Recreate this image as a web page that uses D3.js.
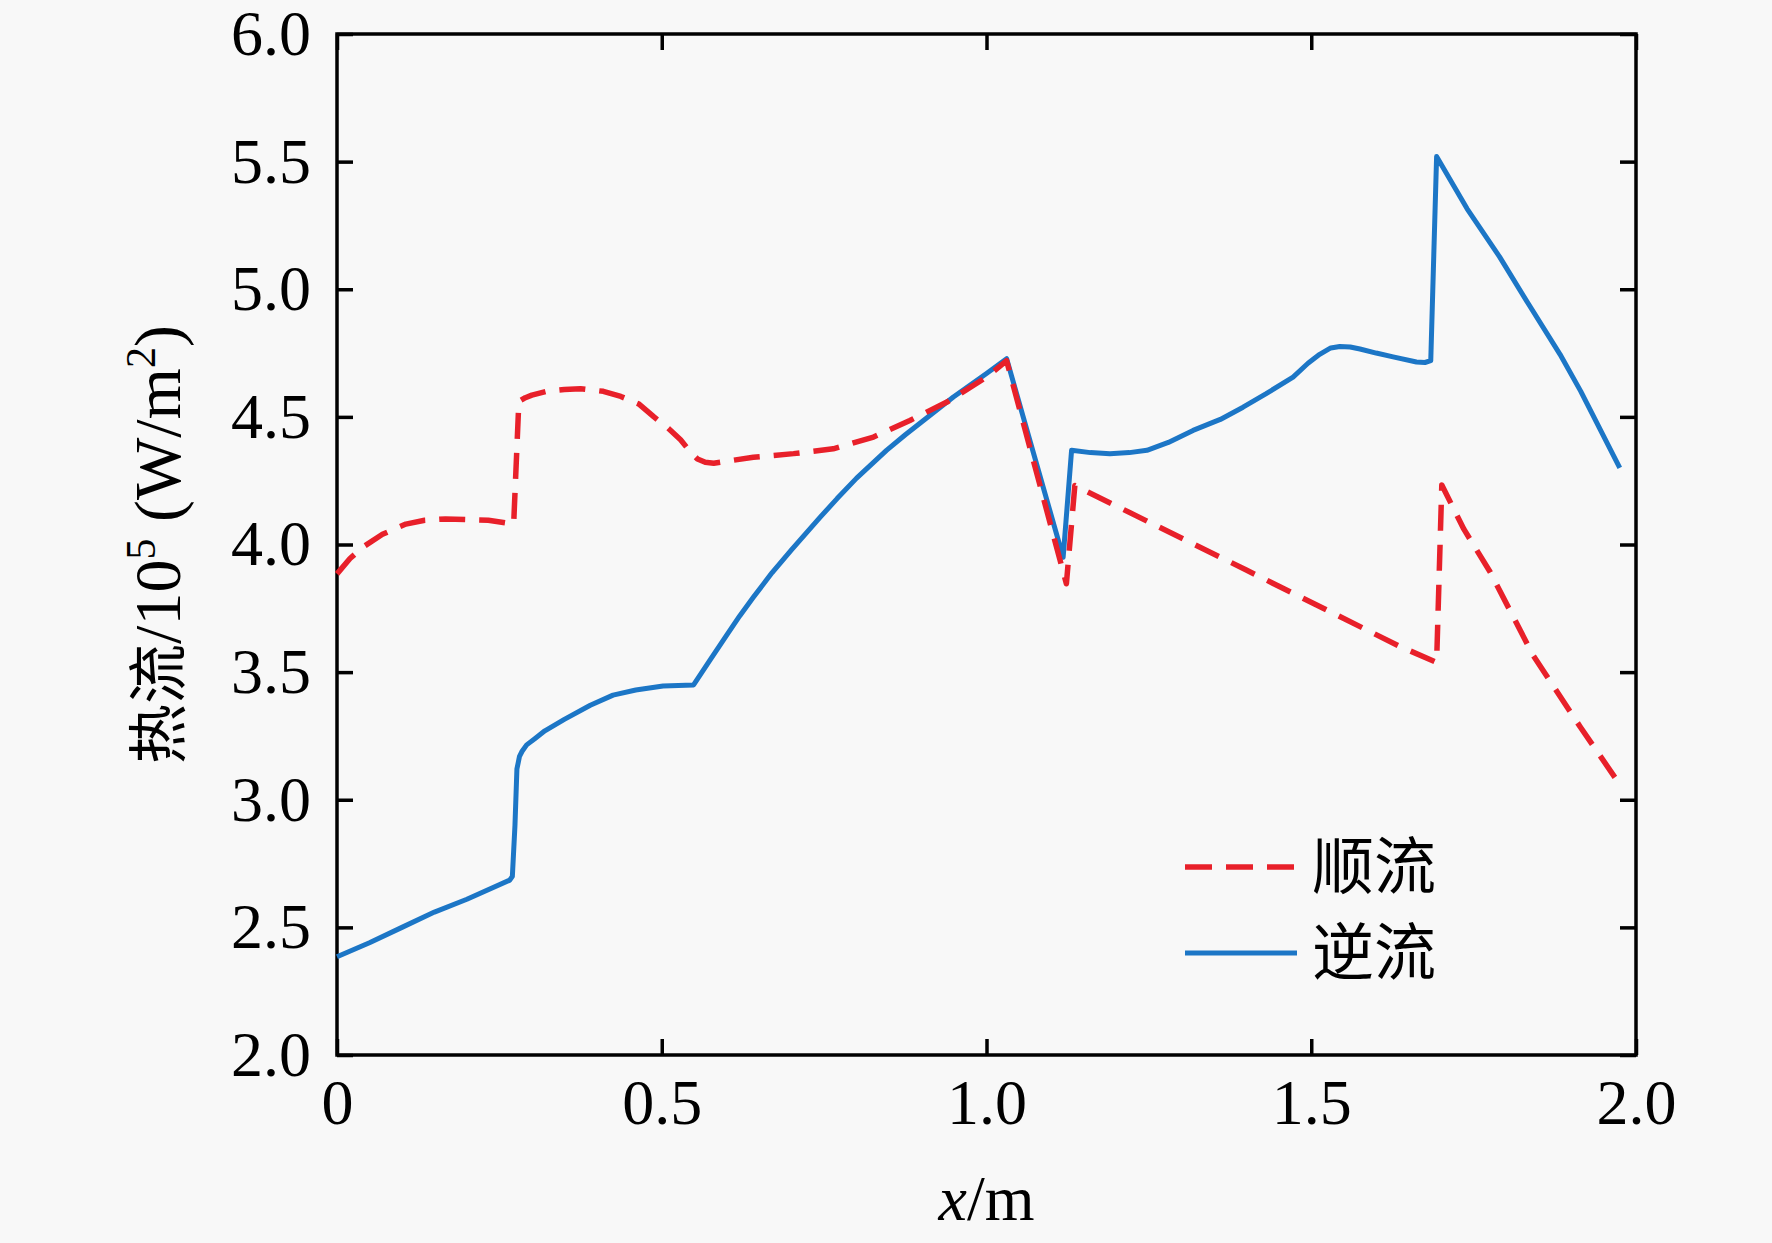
<!DOCTYPE html>
<html>
<head>
<meta charset="utf-8">
<script src="https://cdn.jsdelivr.net/npm/d3@7"></script>
<style>
  body { margin: 0; background: #f8f8f8; }
  svg { display: block; }
</style>
</head>
<body>
<div id="chart"></div>
<script>
// heat flux along the tube, two flow arrangements
var xCounter = [0, 0.05, 0.10, 0.15, 0.20, 0.266, 0.270, 0.274, 0.277, 0.281, 0.285, 0.292, 0.305, 0.320, 0.350, 0.390, 0.425,
  0.460, 0.502, 0.549, 0.575, 0.600, 0.620, 0.641, 0.670, 0.700, 0.744, 0.770, 0.800, 0.846, 0.875, 0.900, 0.949,
  0.975, 1.000, 1.031, 1.118, 1.131, 1.160, 1.190, 1.220, 1.247, 1.280, 1.318, 1.360, 1.395, 1.430, 1.472, 1.495,
  1.513, 1.530, 1.544, 1.560, 1.575, 1.600, 1.626, 1.662, 1.675, 1.684, 1.693, 1.740, 1.790, 1.835, 1.883, 1.915,
  1.945, 1.975];
var yCounter = [2.385, 2.44, 2.50, 2.56, 2.61, 2.685, 2.70, 2.90, 3.12, 3.17, 3.19, 3.215, 3.24, 3.27, 3.315, 3.37, 3.41,
  3.43, 3.446, 3.45, 3.55, 3.645, 3.72, 3.793, 3.89, 3.98, 4.107, 4.18, 4.26, 4.369, 4.43, 4.48, 4.578,
  4.625, 4.67, 4.728, 3.95, 4.369, 4.36, 4.356, 4.36, 4.369, 4.40, 4.447, 4.49, 4.538, 4.59, 4.656, 4.71,
  4.745, 4.77, 4.776, 4.774, 4.766, 4.75, 4.735, 4.715, 4.713, 4.72, 5.52, 5.315, 5.127, 4.94, 4.745, 4.60,
  4.45, 4.30];

var xParallel = [0, 0.02, 0.04, 0.07, 0.106, 0.135, 0.167, 0.233, 0.272, 0.280, 0.290, 0.300, 0.323, 0.350, 0.375, 0.410,
  0.437, 0.465, 0.488, 0.510, 0.529, 0.545, 0.555, 0.567, 0.580, 0.610, 0.641, 0.703, 0.764, 0.826, 0.882, 0.939,
  1.000, 1.031, 1.123, 1.136, 1.400, 1.637, 1.693, 1.701, 1.735, 1.775, 1.842, 1.914, 1.975];
var yParallel = [3.885, 3.945, 3.99, 4.04, 4.08, 4.095, 4.10, 4.095, 4.08, 4.56, 4.575, 4.585, 4.60, 4.607, 4.61, 4.60,
  4.58, 4.55, 4.50, 4.455, 4.41, 4.36, 4.335, 4.322, 4.318, 4.33, 4.342, 4.356, 4.375, 4.421, 4.486, 4.558,
  4.656, 4.72, 3.846, 4.231, 3.90, 3.60, 3.538, 4.233, 4.06, 3.894, 3.564, 3.286, 3.06];

var seriesNames = ["顺流", "逆流"];
var xTicks = [0, 0.5, 1.0, 1.5, 2.0];
var xTickLabels = ["0", "0.5", "1.0", "1.5", "2.0"];
var yTicks = [2.0, 2.5, 3.0, 3.5, 4.0, 4.5, 5.0, 5.5, 6.0];

var svgWidth = 1772;
var svgHeight = 1243;
var plotLeft = 337, plotRight = 1636, plotTop = 34, plotBottom = 1055;
var fontStack = "'Liberation Serif', 'Times New Roman', 'Noto Sans CJK SC', serif";

var svg = d3.select("#chart").append("svg")
  .attr("width", svgWidth)
  .attr("height", svgHeight)
  .style("font-family", fontStack);

var x = d3.scaleLinear().domain([0, 2]).range([plotLeft, plotRight]);
var y = d3.scaleLinear().domain([2, 6]).range([plotBottom, plotTop]);

// axes, ticks pointing inward on all four sides
function styleAxis(g) {
  g.select(".domain").remove();
  g.selectAll(".tick line").attr("stroke", "#000").attr("stroke-width", 3.5);
  g.selectAll(".tick text").attr("fill", "#000").style("font-size", "64px").style("font-family", fontStack);
}

svg.append("g")
  .attr("transform", `translate(0, ${plotBottom})`)
  .call(d3.axisBottom(x).tickValues(xTicks).tickSizeInner(-16).tickSizeOuter(0).tickPadding(24)
    .tickFormat((d, i) => xTickLabels[i]))
  .call(styleAxis);

svg.append("g")
  .attr("transform", `translate(0, ${plotTop})`)
  .call(d3.axisTop(x).tickValues(xTicks).tickSizeInner(-16).tickSizeOuter(0).tickFormat(""))
  .call(styleAxis);

svg.append("g")
  .attr("transform", `translate(${plotLeft}, 0)`)
  .call(d3.axisLeft(y).tickValues(yTicks).tickSizeInner(-16).tickSizeOuter(0).tickPadding(26)
    .tickFormat(d3.format(".1f")))
  .call(styleAxis);

svg.append("g")
  .attr("transform", `translate(${plotRight}, 0)`)
  .call(d3.axisRight(y).tickValues(yTicks).tickSizeInner(-16).tickSizeOuter(0).tickFormat(""))
  .call(styleAxis);

// frame
svg.append("rect")
  .attr("x", plotLeft).attr("y", plotTop)
  .attr("width", plotRight - plotLeft).attr("height", plotBottom - plotTop)
  .attr("fill", "none")
  .attr("stroke", "#000")
  .attr("stroke-width", 3.5);

var line = d3.line()
  .x(d => x(d[0]))
  .y(d => y(d[1]));

var parallelData = xParallel.map((v, i) => [v, yParallel[i]]);
var counterData = xCounter.map((v, i) => [v, yCounter[i]]);

svg.append("path")
  .datum(counterData)
  .attr("d", line)
  .attr("fill", "none")
  .attr("stroke", "#1c76c6")
  .attr("stroke-width", 5)
  .attr("stroke-linejoin", "round");

svg.append("path")
  .datum(parallelData)
  .attr("d", line)
  .attr("fill", "none")
  .attr("stroke", "#e8202a")
  .attr("stroke-width", 5.5)
  .attr("stroke-dasharray", "26,14")
  .attr("stroke-linejoin", "round");

// legend
var legend = svg.append("g");
var legendStyles = [
  {color: "#e8202a", dash: "27,14", width: 5.5},
  {color: "#1c76c6", dash: null, width: 5}
];
seriesNames.forEach(function(name, i) {
  var ly = 867 + i * 86;
  legend.append("line")
    .attr("x1", 1185).attr("x2", 1297)
    .attr("y1", ly).attr("y2", ly)
    .attr("stroke", legendStyles[i].color)
    .attr("stroke-width", legendStyles[i].width)
    .attr("stroke-dasharray", legendStyles[i].dash);
  legend.append("text")
    .attr("x", 1312)
    .attr("y", ly + 22)
    .style("font-size", "62px")
    .style("font-family", "'Noto Sans CJK SC', sans-serif")
    .attr("fill", "#000")
    .text(name);
});

// axis titles
var xLabel = svg.append("text")
  .attr("x", (plotLeft + plotRight) / 2)
  .attr("y", 1220)
  .attr("text-anchor", "middle")
  .style("font-size", "64px")
  .attr("fill", "#000");
xLabel.append("tspan").style("font-style", "italic").text("x");
xLabel.append("tspan").text("/m");

var yLabel = svg.append("text")
  .attr("transform", `translate(180, ${(plotTop + plotBottom) / 2}) rotate(-90)`)
  .attr("text-anchor", "middle")
  .style("font-size", "66px")
  .attr("fill", "#000");
yLabel.append("tspan").style("font-family", "'Noto Sans CJK SC', sans-serif").style("font-size", "60px").text("热流");
yLabel.append("tspan").text("/10");
yLabel.append("tspan").attr("dy", -25).style("font-size", "42px").text("5");
yLabel.append("tspan").attr("dy", 25).text(" (W/m");
yLabel.append("tspan").attr("dy", -25).style("font-size", "42px").text("2");
yLabel.append("tspan").attr("dy", 25).text(")");
</script>
</body>
</html>
